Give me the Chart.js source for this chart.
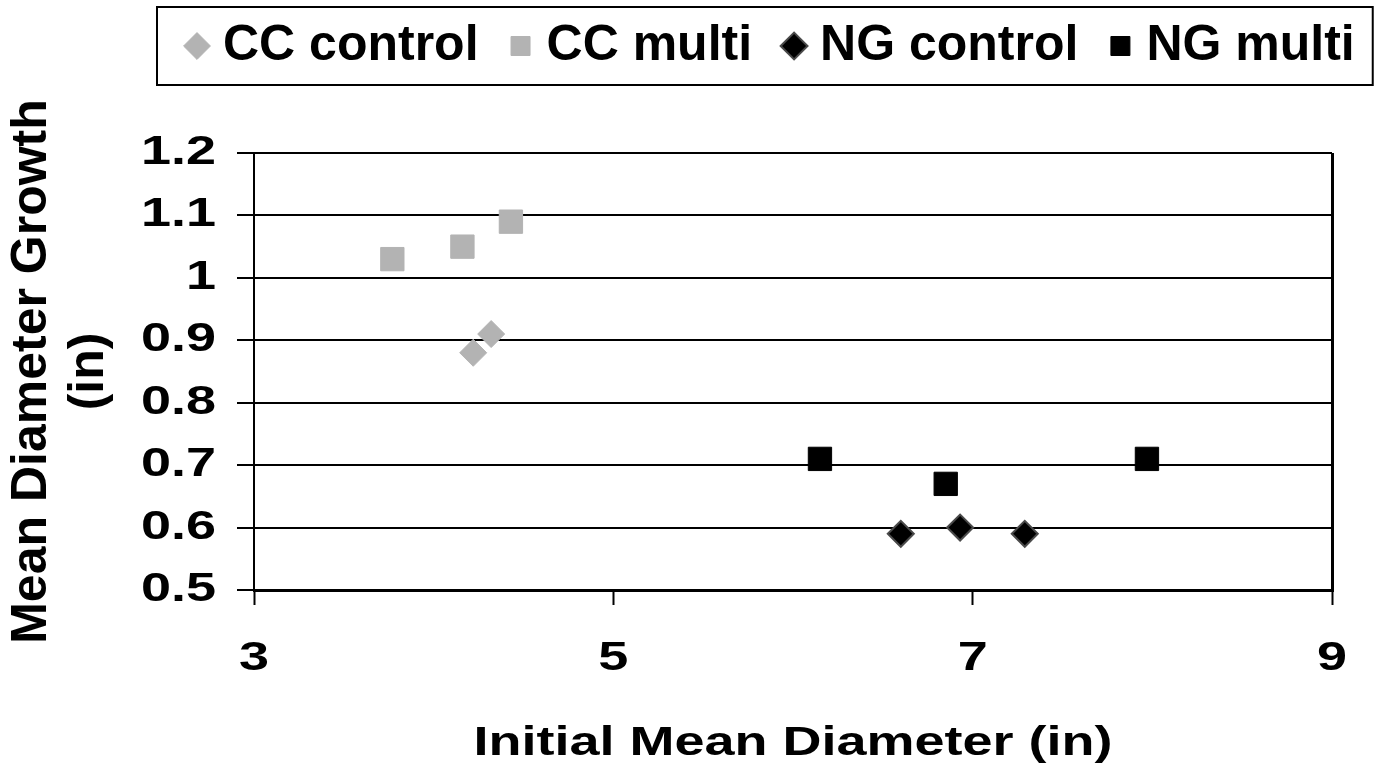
<!DOCTYPE html>
<html>
<head>
<meta charset="utf-8">
<script src="https://cdn.jsdelivr.net/npm/chart.js@4.4.1/dist/chart.umd.min.js"></script>
<style>
  html, body { margin: 0; padding: 0; background: #ffffff; }
  #c { display: block; }
</style>
</head>
<body>
<canvas id="c" width="1382" height="775"></canvas>
<script>
// ---- data ----
const seriesNames = ['CC control', 'CC multi', 'NG control', 'NG multi'];
const ccControl = [{x: 4.22, y: 0.88}, {x: 4.32, y: 0.91}];
const ccMulti   = [{x: 3.77, y: 1.03}, {x: 4.16, y: 1.05}, {x: 4.43, y: 1.09}];
const ngControl = [{x: 6.60, y: 0.59}, {x: 6.93, y: 0.60}, {x: 7.29, y: 0.59}];
const ngMulti   = [{x: 6.15, y: 0.71}, {x: 6.85, y: 0.67}, {x: 7.97, y: 0.71}];
const xTickValues = [3, 5, 7, 9];
const xTickLabels = ['3', '5', '7', '9'];
const yTickValues = [0.5, 0.6, 0.7, 0.8, 0.9, 1.0, 1.1, 1.2];
const yTickLabels = ['0.5', '0.6', '0.7', '0.8', '0.9', '1', '1.1', '1.2'];
const xTitle = 'Initial Mean Diameter (in)';
const yTitle = ['Mean Diameter Growth', '(in)'];

// ---- styling ----
const GRAY = '#b3b3b3';
const BLACK = '#000000';
const TEXT_STRETCH = 1.35;
const WIDE = "'Liberation Sans', Arial, xstretch";
const PLAIN = "'Liberation Sans', Arial, sans-serif";

const canvas = document.getElementById('c');
const ctx2d = canvas.getContext('2d');
// Axis texts in the reference are set wider than the font; widen them about their anchor.
const rawFill = ctx2d.fillText.bind(ctx2d);
ctx2d.fillText = function (text, x, y) {
  if (this.font.indexOf('xstretch') >= 0) {
    this.save();
    this.translate(x, y);
    this.scale(TEXT_STRETCH, 1);
    rawFill(text, 0, 0);
    this.restore();
  } else {
    rawFill(text, x, y);
  }
};

const legendPlacer = {
  id: 'legendPlacer',
  afterLayout(chart) {
    const lg = chart.legend;
    if (!lg) return;
    const w = lg.right - lg.left;
    const h = lg.bottom - lg.top;
    lg.left = 155; lg.right = lg.left + w;
    lg.top = -20; lg.bottom = lg.top + h;
  },
  afterDraw(chart) {
    const lg = chart.legend;
    if (!lg || !lg.legendHitBoxes || !lg.legendHitBoxes.length) return;
    const hb = lg.legendHitBoxes;
    const first = hb[0], last = hb[hb.length - 1];
    const x0 = first.left - 39;
    const x1 = last.left + last.width + 18;
    const y0 = first.top - 14;
    const y1 = first.top + first.height + 14;
    const c = chart.ctx;
    c.save();
    c.strokeStyle = BLACK;
    c.lineWidth = 2;
    c.strokeRect(x0, y0, x1 - x0, y1 - y0);
    c.restore();
  }
};

new Chart(ctx2d, {
  type: 'scatter',
  data: {
    datasets: [
      { label: seriesNames[0], data: ccControl, pointStyle: 'rectRot', pointRadius: 13.5,
        backgroundColor: GRAY, borderColor: GRAY, borderWidth: 1 },
      { label: seriesNames[1], data: ccMulti, pointStyle: 'rect', pointRadius: 16.5,
        backgroundColor: GRAY, borderColor: GRAY, borderWidth: 1 },
      { label: seriesNames[2], data: ngControl, pointStyle: 'rectRot', pointRadius: 13,
        backgroundColor: BLACK, borderColor: '#4a4a4a', borderWidth: 2 },
      { label: seriesNames[3], data: ngMulti, pointStyle: 'rect', pointRadius: 16.5,
        backgroundColor: BLACK, borderColor: BLACK, borderWidth: 1 }
    ]
  },
  options: {
    responsive: false,
    animation: false,
    devicePixelRatio: 1,
    layout: { padding: { top: 52, right: 50, bottom: 0, left: 0 } },
    plugins: {
      tooltip: { enabled: false },
      legend: {
        position: 'top',
        align: 'start',
        labels: {
          usePointStyle: true,
          boxWidth: 2,
          boxHeight: 19,
          padding: 41,
          color: BLACK,
          font: { family: PLAIN, size: 50, weight: 'bold' }
        }
      }
    },
    scales: {
      x: {
        type: 'linear',
        min: 3, max: 9,
        afterFit(s) { s.height = 185; },
        afterBuildTicks(s) { s.ticks = xTickValues.map(v => ({ value: v })); },
        ticks: {
          padding: 30,
          color: BLACK,
          font: { family: WIDE, size: 40, weight: 'bold' },
          callback: (v, i) => xTickLabels[i]
        },
        grid: {
          drawOnChartArea: true,
          color: c => (c.tick && c.tick.value === 9 ? BLACK : 'rgba(0,0,0,0)'),
          lineWidth: 3,
          tickColor: BLACK,
          tickWidth: 2,
          tickLength: 15
        },
        border: { display: true, color: BLACK, width: 3 },
        title: {
          display: true,
          text: xTitle,
          color: BLACK,
          font: { family: WIDE, size: 40, weight: 'bold' },
          padding: { top: 0, bottom: 7 }
        }
      },
      y: {
        type: 'linear',
        min: 0.5, max: 1.2,
        afterFit(s) { s.width = 254; },
        afterBuildTicks(s) { s.ticks = yTickValues.map(v => ({ value: v })); },
        ticks: {
          padding: 21,
          color: BLACK,
          font: { family: WIDE, size: 40, weight: 'bold' },
          callback: (v, i) => yTickLabels[i]
        },
        grid: {
          color: BLACK,
          lineWidth: 2,
          tickColor: BLACK,
          tickWidth: 2,
          tickLength: 17
        },
        border: { display: true, color: BLACK, width: 2 },
        title: {
          display: true,
          text: yTitle,
          color: BLACK,
          font: { family: PLAIN, size: 50, weight: 'bold', lineHeight: 1.15 },
          padding: { top: 3, bottom: 0 }
        }
      }
    }
  },
  plugins: [legendPlacer]
});
</script>
</body>
</html>
